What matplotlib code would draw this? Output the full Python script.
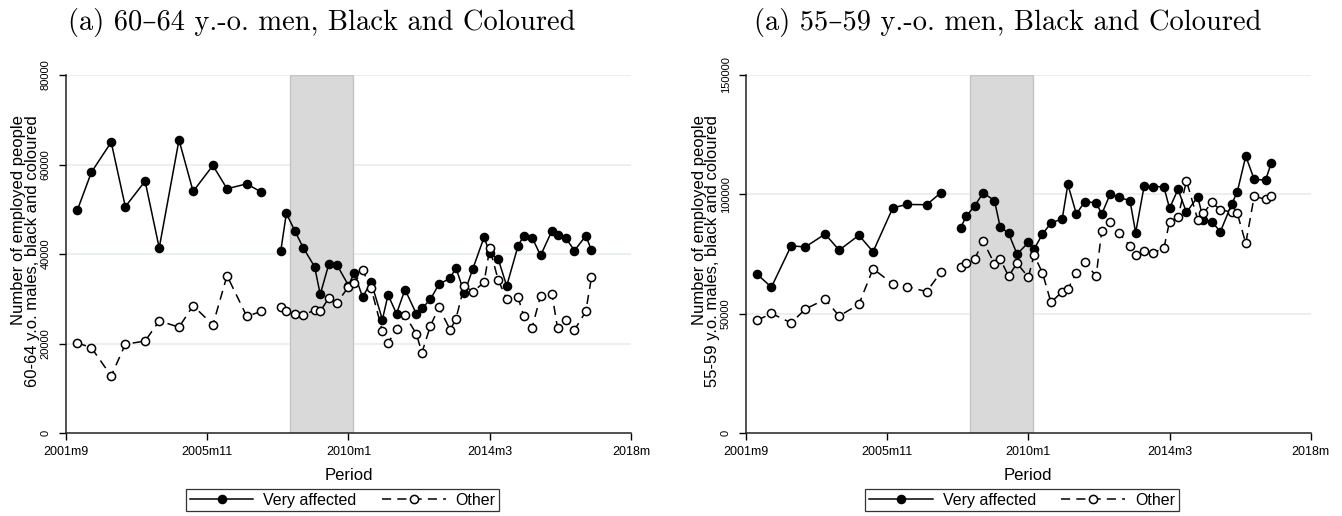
import matplotlib
matplotlib.use("Agg")
import matplotlib.pyplot as plt

plt.rcParams["font.family"] = ["Liberation Sans", "DejaVu Sans"]

# period labels (Stata %tm), LFS then QLFS
per_lfs = ["2002m1", "2002m6", "2003m1", "2003m6", "2004m1", "2004m6",
           "2005m1", "2005m6", "2006m1", "2006m6", "2007m1", "2007m6"]
per_qlfs = []
for yr in range(2008, 2017):
    for mo in (1, 3, 6, 9):
        per_qlfs.append("%dm%d" % (yr, mo))
per_qlfs += ["2017m1", "2017m3"]

# 60-64 y.o. men
va60_lfs = [49800, 58300, 65000, 50600, 56300, 41400, 65500, 54000, 59800, 54600, 55700, 53900]
ot60_lfs = [20200, 19100, 12800, 19900, 20600, 25100, 23700, 28500, 24200, 35200, 26100, 27200]
va60_qlfs = [40600, 49100, 45200, 41400, 37200, 31000, 37700, 37500, 33000, 35800,
             30400, 33800, 25400, 30900, 26700, 32100, 26700, 27900, 29900, 33300,
             34600, 37000, 31300, 36700, 43800, 40200, 38900, 32900, 41800, 44100,
             43700, 39700, 45200, 44200, 43500, 40800, 44100, 40900]
ot60_qlfs = [28100, 27400, 26600, 26400, 27500, 27200, 30200, 29200, 32700, 33500,
             36400, 32400, 22800, 20200, 23200, 26400, 22200, 18000, 24000, 28100,
             23100, 25500, 32900, 31600, 33700, 41300, 34200, 30000, 30400, 26300,
             23600, 30700, 31200, 23500, 25300, 23100, 27200, 34800]

# 55-59 y.o. men
va55_lfs = [66500, 61200, 78500, 78000, 83400, 76700, 82900, 76000, 94400, 95800, 95700, 100700]
ot55_lfs = [47300, 50200, 46200, 52000, 56100, 49100, 54000, 68900, 62500, 61400, 59300, 67400]
va55_qlfs = [86000, 90900, 95200, 100700, 97400, 86500, 83700, 75000, 79900, 77000,
             83400, 88000, 89800, 104200, 91800, 97000, 96500, 91800, 100200, 98800,
             97400, 84000, 103400, 103300, 103200, 94200, 102100, 92500, 99000, 89300,
             88600, 84400, 95900, 101100, 116000, 106300, 106000, 113000]
ot55_qlfs = [69700, 71200, 73000, 80500, 70900, 73000, 65800, 71200, 65300, 74600,
             67200, 54800, 59300, 60400, 67200, 71600, 65800, 84800, 88600, 84000,
             78400, 74600, 76200, 75600, 77400, 88600, 90400, 105700, 89300, 92100,
             96700, 93500, 92700, 92100, 79500, 99300, 97900, 99300]

xtick_pos = ["2001m9", "2005m11", "2010m1", "2014m3", "2018m5"]
xtick_lab = ["2001m9", "2005m11", "2010m1", "2014m3", "2018m"]
shade = (579.3, 601.7)


def tm(s):
    y, m = s.split("m")
    return (int(y) - 1960) * 12 + int(m) - 1


x_lfs = [tm(p) for p in per_lfs]
x_qlfs = [tm(p) for p in per_qlfs]

fig = plt.figure(figsize=(13.42, 5.16), dpi=100)
ax1 = fig.add_axes([0.04918, 0.16027, 0.42101, 0.69438])
ax2 = fig.add_axes([0.55589, 0.16027, 0.42079, 0.69438])

grid_c = "#e6eef0"


def panel(ax, va_a, va_b, ot_a, ot_b, ymax, ystep):
    ax.axvspan(shade[0], shade[1], color="#d9d9d9", ec="#c4c4c4", lw=1, zorder=1)
    for yv in range(ystep, ymax + 1, ystep):
        ax.axhline(yv, color=grid_c, lw=1.2, zorder=0.5)
    kw_va = dict(color="black", lw=1.1, marker="o", ms=5.9, mfc="black", mec="black", zorder=3)
    kw_ot = dict(color="black", lw=1.1, ls=(0, (6, 4)), marker="o", ms=5.9, mfc="white",
                 mec="black", mew=1.1, zorder=4)
    ax.plot(x_lfs, va_a, label="Very affected", **kw_va)
    ax.plot(x_qlfs, va_b, **kw_va)
    ax.plot(x_lfs, ot_a, label="Other", **kw_ot)
    ax.plot(x_qlfs, ot_b, **kw_ot)
    ax.set_xlim(500, 700)
    ax.set_ylim(0, ymax)
    ax.set_xticks([tm(p) for p in xtick_pos])
    ax.set_xticklabels(xtick_lab)
    ax.set_yticks(list(range(0, ymax + 1, ystep)))
    ax.set_yticklabels([str(v) for v in range(0, ymax + 1, ystep)])
    for s in ("top", "right"):
        ax.spines[s].set_visible(False)
    for s in ("left", "bottom"):
        ax.spines[s].set_linewidth(1.1)
        ax.spines[s].set_color("#222222")
    ax.tick_params(axis="x", length=5, width=1, pad=4, labelsize=9)
    ax.tick_params(axis="y", length=5, width=1, pad=6, labelsize=8, labelrotation=90)
    for lab in ax.get_yticklabels():
        lab.set_va("center")
    ax.set_xlabel("Period", fontsize=12, labelpad=7)
    ax.set_facecolor("white")


panel(ax1, va60_lfs, va60_qlfs, ot60_lfs, ot60_qlfs, 80000, 20000)
panel(ax2, va55_lfs, va55_qlfs, ot55_lfs, ot55_qlfs, 150000, 50000)

title_font = ["cmr10", "DejaVu Serif"]
fig.text(0.240, 0.957, "(a) 60\u201364 y.-o. men, Black and Coloured", family=title_font,
         fontsize=20.5, ha="center", va="center")
fig.text(0.751, 0.957, "(a) 55\u201359 y.-o. men, Black and Coloured", family=title_font,
         fontsize=20.5, ha="center", va="center")

# two-line y titles, top-aligned
for x0, grp in ((0, "60-64"), (680, "55-59")):
    fig.text((x0 + 19) / 1342, 1 - 115 / 516, "Number of employed people", rotation=90,
             fontsize=12, ha="center", va="top")
    fig.text((x0 + 33) / 1342, 1 - 115 / 516, grp + " y.o. males, black and coloured",
             rotation=90, fontsize=12, ha="center", va="top")

for ax, cx in ((ax1, 0.2552), (ax2, 0.7615)):
    leg = ax.legend(loc="center", bbox_to_anchor=(cx, 0.031), bbox_transform=fig.transFigure,
                    ncol=2, fontsize=11.5, frameon=True, fancybox=False, handlelength=4,
                    columnspacing=1.6, handletextpad=0.6, borderpad=0.25, edgecolor="black")
    leg.get_frame().set_linewidth(0.9)

fig.savefig("out.png", dpi=100)
